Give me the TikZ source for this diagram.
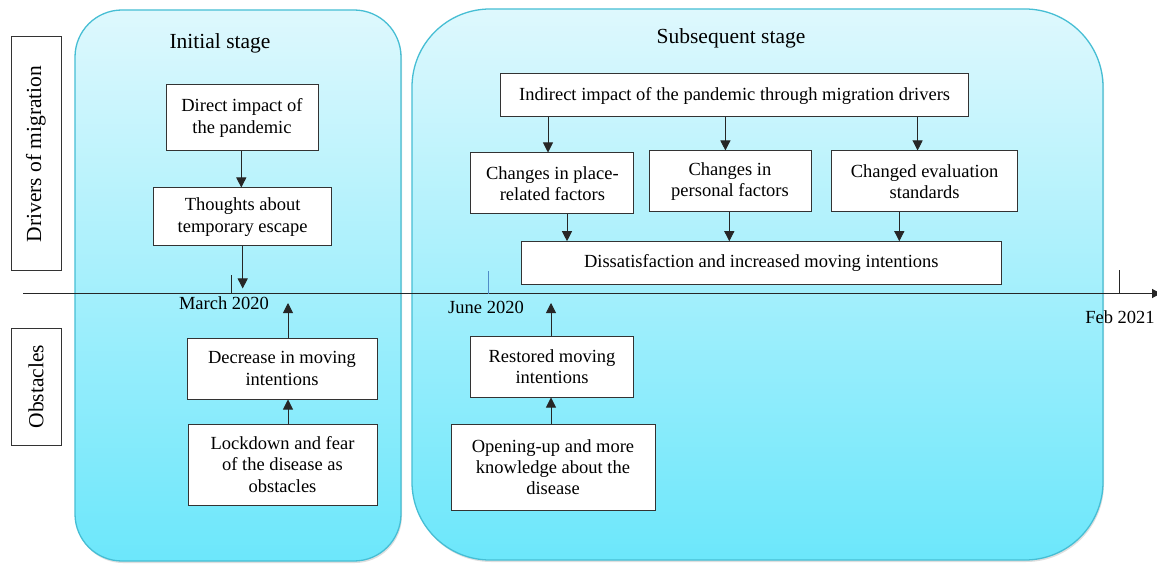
\documentclass[tikz,border=0pt]{standalone}
\usepackage{fontspec}
\setmainfont{Liberation Serif}
\usetikzlibrary{arrows.meta,calc,shadows}
\definecolor{stageborder}{RGB}{70,190,212}
\definecolor{stagetop}{RGB}{222,248,253}
\definecolor{stagemid}{RGB}{176,238,250}
\definecolor{stagebot}{RGB}{108,231,251}
\definecolor{junetick}{RGB}{80,140,200}
\newcommand{\boxfont}{\fontsize{18.5}{21.3}\selectfont}
\newcommand{\titlefont}{\fontsize{21.5}{24}\selectfont}
\tikzset{
  stage/.style={draw=stageborder, line width=1.3pt, top color=stagetop, middle color=stagemid, bottom color=stagebot,
    drop shadow={opacity=0.25, shadow xshift=1pt, shadow yshift=-2pt}},
  tbox/.style={draw=black!80, fill=white, line width=1pt, align=center, inner sep=2pt, font=\boxfont},
  sidebox/.style={draw=black!80, fill=white, line width=1pt, align=center, inner sep=0pt, font=\titlefont, rotate=90},
  arr/.style={draw=black!85, line width=0.9pt, -{Triangle[length=10pt,width=10pt]}},
  axisline/.style={draw=black!85, line width=1.1pt, -{Triangle[length=9pt,width=9pt]}},
  tickline/.style={draw=black!85, line width=0.9pt},
  datelabel/.style={font=\boxfont, inner sep=0pt},
  stitle/.style={font=\titlefont, inner sep=0pt}
}
\begin{document}
\begin{tikzpicture}[x=1pt,y=-1pt]
\useasboundingbox (0,0) rectangle (1157,564);
\fill[white] (0,0) rectangle (1157,564);
% stage panels
\path[stage, rounded corners=47pt] (75,10) rectangle (401,561);
\path[stage, rounded corners=78pt] (412,9) rectangle (1103,560);
\node[stitle] (tinit) at (220,43) {Initial stage};
\node[stitle] (tsub) at (731,38) {Subsequent stage};
% side labels
\node[sidebox, minimum width=234, minimum height=50] (drivers) at (36,154) {Drivers of migration};
\node[sidebox, minimum width=117, minimum height=50] (obst) at (36,386.5) {Obstacles};
% axis
\coordinate (axL) at (23,293.5);
\coordinate (axR) at (1161,293.5);
\draw[axisline] (axL) -- (axR);
\coordinate (mar) at (231,293.5);
\coordinate (jun) at (488,293.5);
\coordinate (feb) at (1119,293.5);
\draw[tickline] (mar) -- ++(0,-18);
\draw[draw=junetick, line width=0.9pt] (jun) -- ++(0,-22);
\draw[tickline] (feb) -- ++(0,-23);
\node[datelabel] (lmar) at (224,303) {March 2020};
\node[datelabel] (ljun) at (486,307) {June 2020};
\node[datelabel] (lfeb) at (1120,317) {Feb 2021};
% initial stage boxes
\node[tbox, minimum width=152, minimum height=66] (direct) at (242,118) {Direct impact of\\the pandemic};
\node[tbox, minimum width=178, minimum height=58] (thoughts) at (242.7,217) {Thoughts about\\temporary escape};
\node[tbox, minimum width=190, minimum height=61] (decrease) at (282,368.5) {Decrease in moving\\intentions};
\node[tbox, minimum width=189, minimum height=81] (lockdown) at (282.5,464.5) {Lockdown and fear\\of the disease as\\obstacles};
% subsequent stage boxes
\node[tbox, minimum width=468, minimum height=43] (indirect) at (734.6,95.5) {Indirect impact of the pandemic through migration drivers};
\node[tbox, minimum width=163, minimum height=61] (place) at (552.4,183.5) {Changes in place-\\related factors};
\node[tbox, minimum width=162, minimum height=61] (personal) at (730,181.5) {Changes in\\personal factors};
\node[tbox, minimum width=186, minimum height=61] (evalu) at (924.6,181.5) {Changed evaluation\\standards};
\node[tbox, minimum width=480, minimum height=42.6] (dissat) at (761.3,263) {Dissatisfaction and increased moving intentions};
\node[tbox, minimum width=163, minimum height=61] (restored) at (552,366.5) {Restored moving\\intentions};
\node[tbox, minimum width=204, minimum height=86] (opening) at (553,467) {Opening-up and more\\knowledge about the\\disease};
% arrows initial stage
\coordinate (d1) at ($(direct.south)+(-0.7,0)$);
\draw[arr] (d1) -- (d1 |- thoughts.north);
\draw[arr] (thoughts.south) -- ($(thoughts.south |- axL)+(0,-5)$);
\coordinate (u1) at ($(decrease.north)+(6,0)$);
\draw[arr] (u1) -- ($(u1 |- axL)+(0,9.5)$);
\coordinate (u2) at ($(lockdown.north)+(5.5,0)$);
\draw[arr] (u2) -- (u2 |- decrease.south);
% arrows subsequent stage
\coordinate (i1) at ($(place.north)+(-4.4,0)$);
\coordinate (i2) at ($(personal.north)+(-4.6,0)$);
\coordinate (i3) at ($(evalu.north)+(-7,0)$);
\draw[arr] (i1 |- indirect.south) -- (i1);
\draw[arr] (i2 |- indirect.south) -- (i2);
\draw[arr] (i3 |- indirect.south) -- (i3);
\coordinate (o1) at ($(place.south)+(14.6,0)$);
\coordinate (o2) at ($(personal.south)+(-0.7,0)$);
\coordinate (o3) at ($(evalu.south)+(-25.3,0)$);
\draw[arr] (o1) -- (o1 |- dissat.north);
\draw[arr] (o2) -- (o2 |- dissat.north);
\draw[arr] (o3) -- (o3 |- dissat.north);
\coordinate (r1) at ($(restored.north)+(-1,0)$);
\draw[arr] (r1) -- ($(r1 |- axL)+(0,9.5)$);
\coordinate (r2) at ($(opening.north)+(-2,0)$);
\draw[arr] (r2) -- (r2 |- restored.south);
\end{tikzpicture}
\end{document}
